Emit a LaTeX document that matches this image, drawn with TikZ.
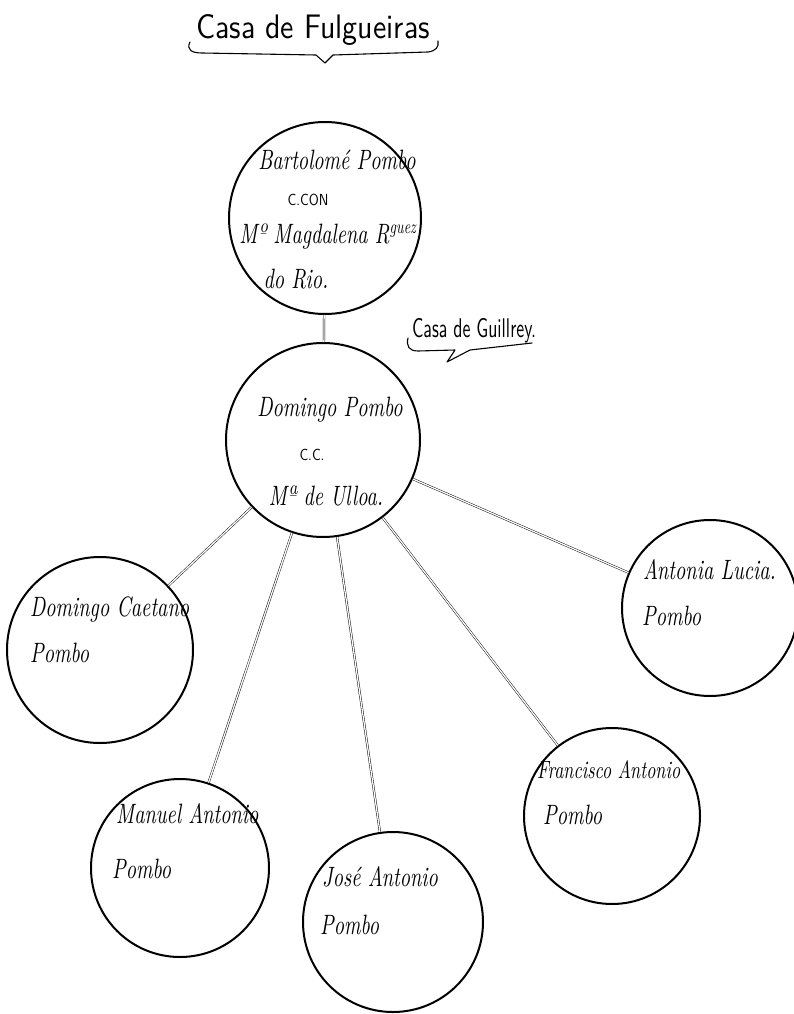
\documentclass[tikz,border=0pt]{standalone}
\usepackage{fontspec}
\newfontfamily\handfont{lmroman10-italic.otf}[FakeStretch=0.72]
\newfontfamily\casafont{lmsans10-regular.otf}[FakeStretch=0.88]
\newfontfamily\casafontb{lmsans10-regular.otf}[FakeStretch=0.66]
\newfontfamily\smallfont{lmsans10-regular.otf}[FakeStretch=0.85]
\begin{document}
\begin{tikzpicture}[x=1pt,y=-1pt,
  person/.style={draw,circle,line width=2pt,inner sep=0pt},
  link/.style={draw,line width=0.45pt,double,double distance=1.3pt},
  hand/.style={font=\fontsize{28}{30}\handfont,inner sep=0pt},
  small/.style={font=\fontsize{16}{18}\smallfont,inner sep=0pt},
  casa/.style={font=\fontsize{34}{36}\casafont,inner sep=0pt},
  brace/.style={draw,line width=1.1pt,line cap=round,line join=round}]
\useasboundingbox (0,0) rectangle (793,1014);
% circles
\node[person,minimum size=192pt] (bart) at (325,218) {};
\node[person,minimum size=194pt] (dom) at (323,440) {};
\node[person,minimum size=186pt] (dc) at (100,650) {};
\node[person,minimum size=176pt] (al) at (710,608) {};
\node[person,minimum size=176pt] (fa) at (612,816) {};
\node[person,minimum size=178pt] (ma) at (180,868) {};
\node[person,minimum size=180pt] (ja) at (393,922) {};
% links
\draw[link] (bart) -- (dom);
\draw[link] (dom) -- (dc);
\draw[link] (dom) -- (ma);
\draw[link] (dom) -- (ja);
\draw[link] (dom) -- (fa);
\draw[link] (dom) -- (al);
% texts
\node[hand] (t1) at (337,160) {Bartolomé Pombo};
\node[small] (t2) at (308,200) {C.CON};
\node[hand] (t3) at (328,236) {Mº Magdalena R\textsuperscript{guez}};
\node[hand] (t4) at (296,279) {do Rio.};
\node[hand] (t5) at (330,410) {Domingo Pombo};
\node[small] (t6) at (312,455) {C.C.};
\node[hand] (t7) at (326,496) {Mª de Ulloa.};
\node[hand,anchor=west] (t8) at (30,609) {Domingo Caetano};
\node[hand,anchor=west] (t9) at (30,653) {Pombo};
\node[hand,anchor=west] (t10) at (643,570) {Antonia Lucia.};
\node[hand,anchor=west] (t11) at (642,616) {Pombo};
\node[hand,anchor=west] (t12) at (116,814) {Manuel Antonio};
\node[hand,anchor=west] (t13) at (112,869) {Pombo};
\node[hand,anchor=west] (t14) at (322,877) {José Antonio};
\node[hand,anchor=west] (t15) at (320,925) {Pombo};
\node[hand,anchor=west,font=\fontsize{25}{27}\handfont] (t16) at (537,770) {Francisco Antonio};
\node[hand,anchor=west] (t17) at (543,815) {Pombo};
% casa labels
\node[casa] (c1) at (313,30) {Casa de Fulgueiras};
\draw[brace] (190,42) .. controls (186,50) and (192,53) .. (202,53)
  -- (316,55) -- (325,63) -- (333,55) -- (428,52)
  .. controls (436,51) and (439,47) .. (438,41);
\node[casa,font=\fontsize{27}{29}\casafontb] (c2) at (474,331) {Casa de Guillrey.};
\draw[brace] (408,338) .. controls (406,346) and (409,351) .. (418,351)
  -- (455,350) -- (447,362) -- (470,350) -- (532,343);
\end{tikzpicture}
\end{document}
